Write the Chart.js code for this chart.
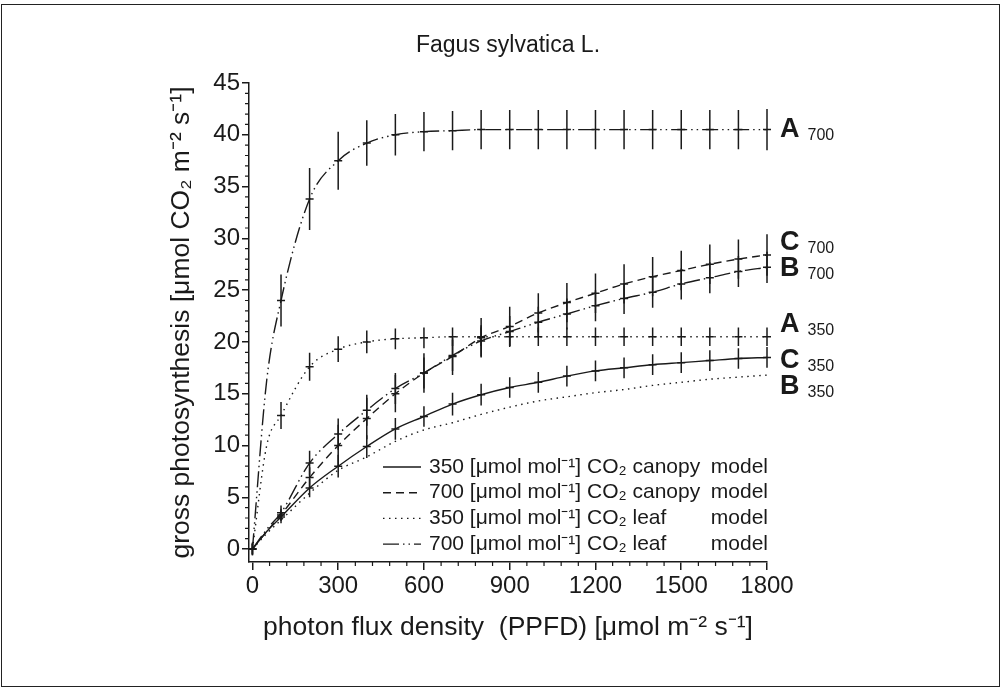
<!DOCTYPE html>
<html>
<head>
<meta charset="utf-8">
<script src="https://cdn.jsdelivr.net/npm/chart.js@4.4.1/dist/chart.umd.min.js"></script>
<style>
  html, body { margin: 0; padding: 0; background: #fff; }
  #wrap { position: relative; width: 1004px; height: 688px; }
  #frame { position: absolute; left: 1px; top: 4px; width: 999px; height: 683px; border: 1.5px solid #222; box-sizing: border-box; }
  canvas { position: absolute; left: 0; top: 0; }
</style>
</head>
<body>
<div id="wrap">
  <div id="frame"></div>
  <canvas id="chart" width="1004" height="688"></canvas>
</div>
<script>
// PPFD values (µmol m-2 s-1)
const ppfd = [0, 50, 100, 200, 300, 400, 500, 600, 700, 800, 900, 1000, 1100, 1200, 1300, 1400, 1500, 1600, 1700, 1800];

// gross photosynthesis
const a700 = [0, 16.3, 24.0, 33.8, 37.5, 39.2, 40.0, 40.3, 40.4, 40.5, 40.5, 40.5, 40.5, 40.5, 40.5, 40.5, 40.5, 40.5, 40.5, 40.5];
const a700Err = [0.6, null, 2.5, 3.0, 2.8, 2.2, 2.0, 1.9, 1.9, 1.9, 1.9, 1.9, 1.9, 1.9, 1.9, 1.9, 1.9, 1.9, 1.9, 2.0];
const c700 = [0, 1.7, 3.3, 6.9, 10.0, 12.6, 15.0, 17.0, 18.6, 20.4, 21.5, 22.8, 23.8, 24.7, 25.6, 26.3, 26.9, 27.5, 28.0, 28.4];
const c700Err = [0.5, null, 0.6, 1.0, 2.0, 2.0, 1.8, 1.9, 1.8, 1.9, 1.9, 1.9, 1.9, 1.9, 1.9, 1.9, 1.9, 1.9, 1.9, 2.0];
const b700 = [0, 1.9, 3.5, 8.3, 11.1, 13.4, 15.5, 17.0, 18.7, 20.1, 21.0, 21.9, 22.7, 23.5, 24.2, 24.8, 25.6, 26.2, 26.8, 27.2];
const b700Err = [null, null, 0.7, 1.2, 1.5, 1.5, 1.5, 1.5, 1.5, 1.5, 1.5, 1.5, 1.5, 1.5, 1.5, 1.5, 1.5, 1.5, 1.5, 1.5];
const a350 = [0, 10.0, 12.9, 17.6, 19.3, 20.0, 20.3, 20.4, 20.5, 20.5, 20.5, 20.5, 20.5, 20.5, 20.5, 20.5, 20.5, 20.5, 20.5, 20.5];
const a350Err = [0.6, null, 1.3, 1.35, 1.25, 1.1, 1.0, 1.0, 0.9, 0.9, 0.9, 0.9, 0.9, 0.9, 0.9, 0.9, 0.9, 0.9, 0.9, 0.9];
const c350 = [0, 1.7, 3.1, 5.9, 8.0, 9.9, 11.6, 12.8, 14.0, 14.9, 15.6, 16.1, 16.7, 17.2, 17.5, 17.8, 18.0, 18.2, 18.4, 18.5];
const c350Err = [0.5, null, 0.6, 0.9, 1.1, 1.1, 1.05, 1.0, 1.1, 1.05, 1.0, 1.0, 1.0, 1.0, 1.0, 1.0, 1.0, 1.0, 1.0, 1.0];
const b350 = [0, 1.5, 2.8, 5.4, 7.6, 8.9, 10.4, 11.5, 12.2, 13.0, 13.7, 14.3, 14.7, 15.1, 15.4, 15.8, 16.1, 16.4, 16.6, 16.8];

// axis ticks
const xTicks = [0, 300, 600, 900, 1200, 1500, 1800];
const yTicks = [0, 5, 10, 15, 20, 25, 30, 35, 40, 45];
const xMinorStep = 60;
const yMinorStep = 1;

// curve end labels
const endLetters = ['A', 'C', 'B', 'A', 'C', 'B'];
const endSubs = ['700', '700', '700', '350', '350', '350'];
const endLabelAt = [40.5, 29.6, 27.1, 21.7, 18.2, 15.7];

// legend
const legendText = [
  '350 [\u03bcmol mol\u207b\u00b9] CO\u2082 canopy',
  '700 [\u03bcmol mol\u207b\u00b9] CO\u2082 canopy',
  '350 [\u03bcmol mol\u207b\u00b9] CO\u2082 leaf',
  '700 [\u03bcmol mol\u207b\u00b9] CO\u2082 leaf'
];

const FONT = "'Liberation Sans', Arial, sans-serif";
const INK = '#1a1a1a';
const SOLID = [];
const DASH = [8, 5];
const DOT = [1.5, 4.5];
const DASHDOT = [16, 4, 1.5, 4, 1.5, 4];
const legendDash = [SOLID, DASH, DOT, DASHDOT];

function series(values, dash, err) {
  return {
    data: ppfd.map((x, i) => ({ x: x, y: values[i] })),
    borderColor: INK,
    borderWidth: 1.4,
    borderDash: dash,
    pointRadius: 0,
    fill: false,
    cubicInterpolationMode: 'monotone',
    err: err
  };
}

const extras = {
  id: 'extras',
  afterDatasetsDraw(chart) {
    const ctx = chart.ctx;
    const xs = chart.scales.x, ys = chart.scales.y;
    ctx.save();
    ctx.strokeStyle = INK;
    ctx.lineWidth = 1.5;
    ctx.setLineDash([]);
    // error bars
    chart.data.datasets.forEach(ds => {
      if (!ds.err) return;
      ds.data.forEach((p, i) => {
        const e = ds.err[i];
        if (e == null) return;
        const px = xs.getPixelForValue(p.x);
        const py = ys.getPixelForValue(p.y);
        ctx.beginPath();
        ctx.moveTo(px, ys.getPixelForValue(p.y + e));
        ctx.lineTo(px, ys.getPixelForValue(p.y - e));
        ctx.moveTo(px - 4, py);
        ctx.lineTo(px + 4, py);
        ctx.stroke();
      });
    });
    // minor ticks
    ctx.lineWidth = 1.2;
    ctx.beginPath();
    for (let v = xMinorStep; v < 1800; v += xMinorStep) {
      if (v % 300 === 0) continue;
      const px = xs.getPixelForValue(v);
      ctx.moveTo(px, xs.top);
      ctx.lineTo(px, xs.top + 4);
    }
    for (let v = yMinorStep; v < 45; v += yMinorStep) {
      if (v % 5 === 0) continue;
      const py = ys.getPixelForValue(v);
      ctx.moveTo(ys.right, py);
      ctx.lineTo(ys.right - 4, py);
    }
    ctx.stroke();
    // end labels
    ctx.fillStyle = INK;
    ctx.textBaseline = 'middle';
    ctx.textAlign = 'left';
    const lx = xs.right + 13;
    endLetters.forEach((l, i) => {
      const py = ys.getPixelForValue(endLabelAt[i]);
      ctx.font = 'bold 27px ' + FONT;
      ctx.fillText(l, lx, py);
      const w = ctx.measureText(l).width;
      ctx.font = '16px ' + FONT;
      ctx.fillText(endSubs[i], lx + w + 8, py + 6);
    });
    // legend
    legendText.forEach((t, i) => {
      const py = 467 + i * 25.7;
      ctx.setLineDash(legendDash[i]);
      ctx.lineWidth = 1.4;
      ctx.beginPath();
      ctx.moveTo(383, py);
      ctx.lineTo(421, py);
      ctx.stroke();
      ctx.setLineDash([]);
      ctx.font = '21px ' + FONT;
      ctx.textAlign = 'left';
      ctx.fillText(t, 429, py);
      ctx.textAlign = 'right';
      ctx.fillText('model', 768, py);
    });
    // title
    ctx.textAlign = 'center';
    ctx.font = '23px ' + FONT;
    ctx.fillText('Fagus sylvatica L.', 508, 46);
    ctx.restore();
  }
};

new Chart(document.getElementById('chart'), {
  type: 'line',
  data: {
    datasets: [
      series(a700, DASHDOT, a700Err),
      series(c700, DASH, c700Err),
      series(b700, DASHDOT, b700Err),
      series(a350, DOT, a350Err),
      series(c350, SOLID, c350Err),
      series(b350, DOT, null)
    ]
  },
  options: {
    responsive: false,
    animation: false,
    layout: { padding: { top: 83, left: 155, right: 237, bottom: 44 } },
    plugins: { legend: { display: false }, tooltip: { enabled: false }, title: { display: false } },
    scales: {
      x: {
        type: 'linear',
        min: -12,
        max: 1800,
        afterBuildTicks: s => { s.ticks = xTicks.map(v => ({ value: v })); },
        afterFit: s => { s.height = 82; },
        grid: { drawOnChartArea: false, drawTicks: true, tickLength: 8, color: INK, lineWidth: 1.5 },
        border: { display: true, color: INK, width: 1.5 },
        ticks: { font: { family: FONT, size: 24 }, color: INK, padding: 2, maxRotation: 0, callback: v => String(v) },
        title: {
          display: true,
          text: 'photon flux density  (PPFD) [\u03bcmol m\u207b\u00b2 s\u207b\u00b9]',
          font: { family: FONT, size: 26.5 }, color: INK, padding: { top: 4, bottom: 0 }
        }
      },
      y: {
        type: 'linear',
        min: -1.25,
        max: 45,
        afterBuildTicks: s => { s.ticks = yTicks.map(v => ({ value: v })); },
        afterFit: s => { s.width = 94; },
        grid: { drawOnChartArea: false, drawTicks: true, tickLength: 7, color: INK, lineWidth: 1.5 },
        border: { display: true, color: INK, width: 1.5 },
        ticks: { font: { family: FONT, size: 24 }, color: INK, padding: 2, callback: v => String(v) },
        title: {
          display: true,
          text: 'gross photosynthesis [\u03bcmol CO\u2082 m\u207b\u00b2 s\u207b\u00b9]',
          font: { family: FONT, size: 26.5 }, color: INK, padding: { top: 11, bottom: 0 }
        }
      }
    }
  },
  plugins: [extras]
});
</script>
</body>
</html>
